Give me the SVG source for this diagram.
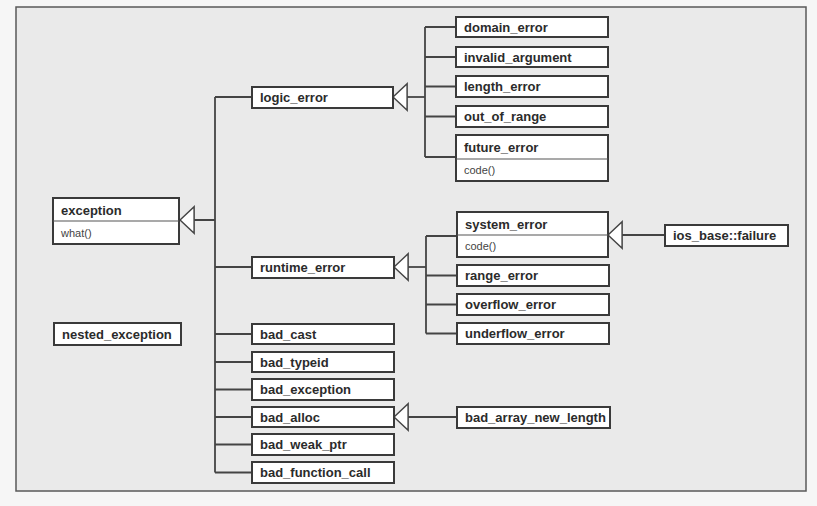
<svg xmlns="http://www.w3.org/2000/svg" width="817" height="506" viewBox="0 0 817 506">
<defs>
<style>
.box{fill:#ffffff;stroke:#3a3a3a;stroke-width:2}
.div{stroke:#555;stroke-width:1.2}
.t{font-family:"Liberation Sans",Arial,sans-serif;font-weight:bold;font-size:13px;fill:#2b2b2b}
.m{font-family:"Liberation Sans",Arial,sans-serif;font-size:11px;fill:#444}
.c{fill:none;stroke:#444;stroke-width:1.8}
</style>
<marker id="inh" markerUnits="userSpaceOnUse" markerWidth="16" markerHeight="30" viewBox="-1 -1 17 30" refX="15" refY="14" orient="auto">
<path d="M0,0 L15,14 L0,28 Z" fill="#ffffff" stroke="#444" stroke-width="1.6"/>
</marker>
</defs>
<rect x="0" y="0" width="817" height="506" fill="#f6f6f6"/>
<rect x="16" y="7" width="790" height="484" fill="#eaeaea" stroke="#5a5a5a" stroke-width="1.5"/>

<g id="connectors">
<path class="c" d="M215,97 V472.5"/>
<path class="c" d="M215,220 H180" marker-end="url(#inh)"/>
<path class="c" d="M215,97 H252 M215,267 H252 M215,334 H252 M215,362 H252 M215,389.5 H252 M215,417 H252 M215,444.5 H252 M215,472.5 H252"/>
<path class="c" d="M425,27 V157"/>
<path class="c" d="M425,97 H393" marker-end="url(#inh)"/>
<path class="c" d="M425,27 H456 M425,57 H456 M425,86.5 H456 M425,116.5 H456 M425,157 H456"/>
<path class="c" d="M426,236 V333.5"/>
<path class="c" d="M426,267 H394" marker-end="url(#inh)"/>
<path class="c" d="M426,236 H457 M426,275.5 H457 M426,304.5 H457 M426,333.5 H457"/>
<path class="c" d="M665,235 H608" marker-end="url(#inh)"/>
<path class="c" d="M457,417 H394" marker-end="url(#inh)"/>
</g>

<g id="exception">
<rect class="box" x="53" y="198" width="126" height="46"/>
<line class="div" x1="53" y1="221" x2="179" y2="221"/>
<text class="t" x="61" y="215">exception</text>
<text class="m" x="61" y="237">what()</text>
</g>
<g id="nested_exception">
<rect class="box" x="54" y="323" width="127" height="22"/>
<text class="t" x="62" y="339">nested_exception</text>
</g>
<g id="logic_error">
<rect class="box" x="252" y="87" width="141" height="21"/>
<text class="t" x="260" y="102">logic_error</text>
</g>
<g id="runtime_error">
<rect class="box" x="252" y="257" width="142" height="21"/>
<text class="t" x="260" y="272">runtime_error</text>
</g>
<g id="bad_cast">
<rect class="box" x="252" y="324" width="142" height="20"/>
<text class="t" x="260" y="339">bad_cast</text>
</g>
<g id="bad_typeid">
<rect class="box" x="252" y="352" width="142" height="20"/>
<text class="t" x="260" y="367">bad_typeid</text>
</g>
<g id="bad_exception">
<rect class="box" x="252" y="379" width="142" height="21"/>
<text class="t" x="260" y="394">bad_exception</text>
</g>
<g id="bad_alloc">
<rect class="box" x="252" y="407" width="142" height="20"/>
<text class="t" x="260" y="422">bad_alloc</text>
</g>
<g id="bad_weak_ptr">
<rect class="box" x="252" y="434" width="142" height="21"/>
<text class="t" x="260" y="449">bad_weak_ptr</text>
</g>
<g id="bad_function_call">
<rect class="box" x="252" y="462" width="142" height="21"/>
<text class="t" x="260" y="477">bad_function_call</text>
</g>
<g id="domain_error">
<rect class="box" x="456" y="17" width="152" height="20"/>
<text class="t" x="464" y="32">domain_error</text>
</g>
<g id="invalid_argument">
<rect class="box" x="456" y="47" width="152" height="20"/>
<text class="t" x="464" y="62">invalid_argument</text>
</g>
<g id="length_error">
<rect class="box" x="456" y="76" width="152" height="21"/>
<text class="t" x="464" y="91">length_error</text>
</g>
<g id="out_of_range">
<rect class="box" x="456" y="106" width="152" height="21"/>
<text class="t" x="464" y="121">out_of_range</text>
</g>
<g id="future_error">
<rect class="box" x="456" y="135" width="152" height="46"/>
<line class="div" x1="456" y1="159" x2="608" y2="159"/>
<text class="t" x="464" y="152">future_error</text>
<text class="m" x="464" y="174">code()</text>
</g>
<g id="system_error">
<rect class="box" x="457" y="212" width="151" height="45"/>
<line class="div" x1="457" y1="235" x2="608" y2="235"/>
<text class="t" x="465" y="229">system_error</text>
<text class="m" x="465" y="250">code()</text>
</g>
<g id="range_error">
<rect class="box" x="457" y="265" width="152" height="21"/>
<text class="t" x="465" y="280">range_error</text>
</g>
<g id="overflow_error">
<rect class="box" x="457" y="294" width="152" height="21"/>
<text class="t" x="465" y="309">overflow_error</text>
</g>
<g id="underflow_error">
<rect class="box" x="457" y="323" width="152" height="21"/>
<text class="t" x="465" y="338">underflow_error</text>
</g>
<g id="ios_base_failure">
<rect class="box" x="665" y="225" width="123" height="21"/>
<text class="t" x="673" y="240">ios_base::failure</text>
</g>
<g id="bad_array_new_length">
<rect class="box" x="457" y="407" width="153" height="21"/>
<text class="t" x="465" y="422">bad_array_new_length</text>
</g>
</svg>
